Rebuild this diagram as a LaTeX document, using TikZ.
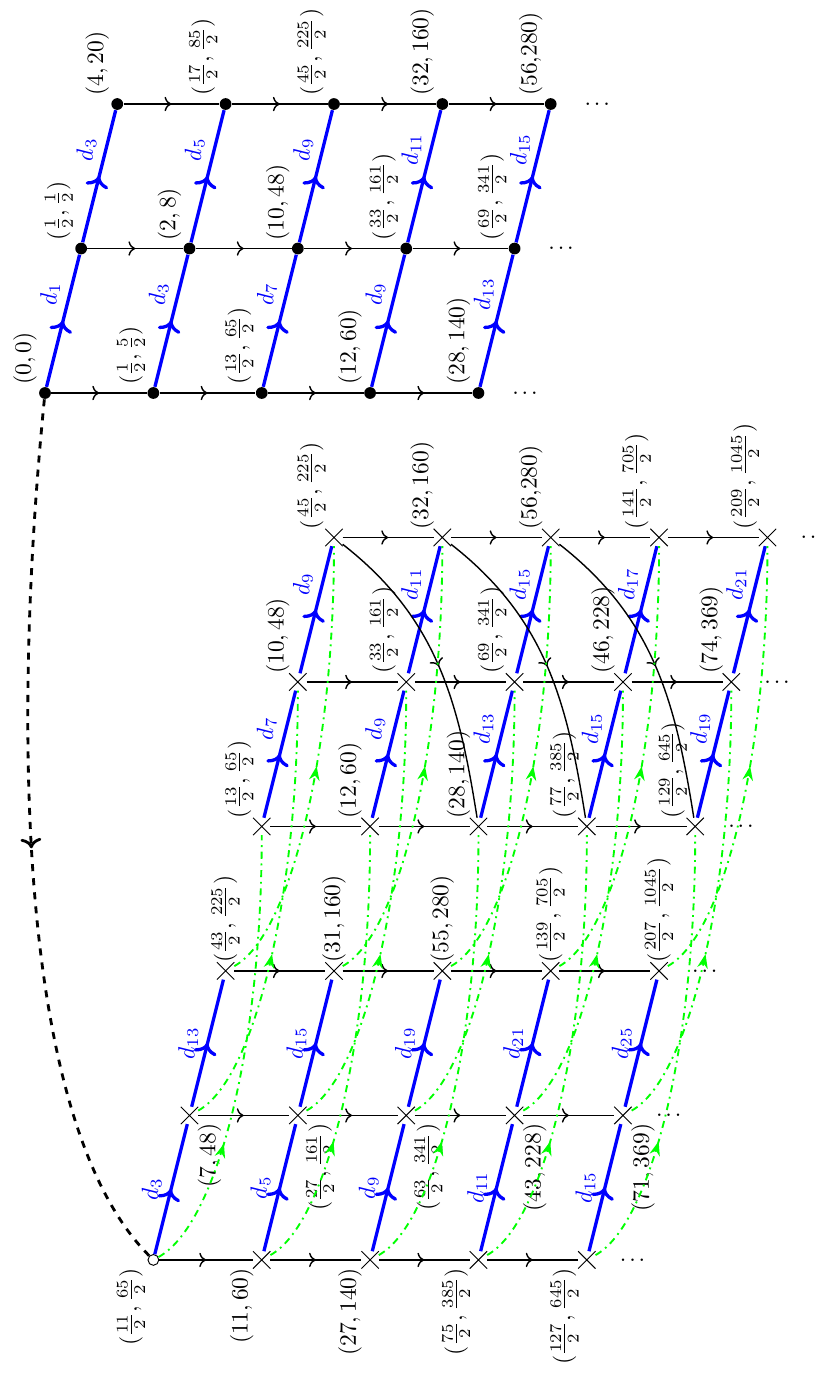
\documentclass[tikz,border=0pt]{standalone}
\usepackage{amsmath}
\usepackage{amssymb}
\usepackage{tikz}
\usetikzlibrary{shapes.misc,decorations.markings,arrows.meta,positioning}

\begin{document}
\begin{tikzpicture}[rotate=90, transform shape, x=1.08cm, y=1.08cm,
        fdot/.style={circle, fill, inner sep=0pt, minimum size=5pt},
        odot/.style={circle, draw, fill=white, inner sep=0pt, minimum size=4.6pt},
        xmark/.style={cross out, draw, inner sep=0pt, minimum size=7pt},
        midarr/.style={postaction={decorate}, decoration={markings, mark=at position #1 with {\arrow{>}}}},
        midarr/.default=0.5,
        blk/.style={midarr, semithick},
        dif/.style={midarr, blue, line width=1.4pt},
        grn/.style={green, thick, dash dot, postaction={decorate}, decoration={markings, mark=at position #1 with {\arrow{Stealth[length=6pt]}}}}]
        \useasboundingbox (-13.69,-10.74) rectangle (5.44,0.623);

        % first page
        \node[fdot] (g1a1) at (0,0) {};
        \node[fdot] (g1a2) at (0,-1.5) {};
        \node[fdot] (g1a3) at (0,-3) {};
        \node[fdot] (g1a4) at (0,-4.5) {};
        \node[fdot] (g1a5) at (0,-6) {};
        \node[fdot] (g1b1) at (2,-0.5) {};
        \node[fdot] (g1b2) at (2,-2) {};
        \node[fdot] (g1b3) at (2,-3.5) {};
        \node[fdot] (g1b4) at (2,-5) {};
        \node[fdot] (g1b5) at (2,-6.5) {};
        \node[fdot] (g1c1) at (4,-1) {};
        \node[fdot] (g1c2) at (4,-2.5) {};
        \node[fdot] (g1c3) at (4,-4) {};
        \node[fdot] (g1c4) at (4,-5.5) {};
        \node[fdot] (g1c5) at (4,-7) {};

        \draw[blk] (g1a1) -- (g1a2);
        \draw[blk] (g1a2) -- (g1a3);
        \draw[blk] (g1a3) -- (g1a4);
        \draw[blk] (g1a4) -- (g1a5);
        \draw[blk] (g1b1) -- (g1b2);
        \draw[blk] (g1b2) -- (g1b3);
        \draw[blk] (g1b3) -- (g1b4);
        \draw[blk] (g1b4) -- (g1b5);
        \draw[blk] (g1c1) -- (g1c2);
        \draw[blk] (g1c2) -- (g1c3);
        \draw[blk] (g1c3) -- (g1c4);
        \draw[blk] (g1c4) -- (g1c5);

        \draw[dif] (g1a1) -- (g1b1) node[pos=0.7, above] (e1a1) {$d_1$};
        \draw[dif] (g1b1) -- (g1c1) node[pos=0.7, above] (e1b1) {$d_3$};
        \draw[dif] (g1a2) -- (g1b2) node[pos=0.7, above] (e1a2) {$d_3$};
        \draw[dif] (g1b2) -- (g1c2) node[pos=0.7, above] (e1b2) {$d_5$};
        \draw[dif] (g1a3) -- (g1b3) node[pos=0.7, above] (e1a3) {$d_7$};
        \draw[dif] (g1b3) -- (g1c3) node[pos=0.7, above] (e1b3) {$d_9$};
        \draw[dif] (g1a4) -- (g1b4) node[pos=0.7, above] (e1a4) {$d_9$};
        \draw[dif] (g1b4) -- (g1c4) node[pos=0.7, above] (e1b4) {$d_{11}$};
        \draw[dif] (g1a5) -- (g1b5) node[pos=0.7, above] (e1a5) {$d_{13}$};
        \draw[dif] (g1b5) -- (g1c5) node[pos=0.7, above] (e1b5) {$d_{15}$};

        \node[above right] (l1a1) at (g1a1) {$(0,0)$};
        \node[above right] (l1a2) at (g1a2) {$(\frac{1}{2},\frac{5}{2})$};
        \node[above right] (l1a3) at (g1a3) {$(\frac{13}{2},\frac{65}{2})$};
        \node[above right] (l1a4) at (g1a4) {$(12,60)$};
        \node[above right] (l1a5) at (g1a5) {$(28,140)$};
        \node[above right] (l1b1) at (g1b1) {$(\frac{1}{2},\frac{1}{2})$};
        \node[above right] (l1b2) at (g1b2) {$(2,8)$};
        \node[above right] (l1b3) at (g1b3) {$(10,48)$};
        \node[above right] (l1b4) at (g1b4) {$(\frac{33}{2},\frac{161}{2})$};
        \node[above right] (l1b5) at (g1b5) {$(\frac{69}{2},\frac{341}{2})$};
        \node[above right] (l1c1) at (g1c1) {$(4,20)$};
        \node[above right] (l1c2) at (g1c2) {$(\frac{17}{2},\frac{85}{2})$};
        \node[above right] (l1c3) at (g1c3) {$(\frac{45}{2},\frac{225}{2})$};
        \node[above right] (l1c4) at (g1c4) {$(32,160)$};
        \node[above right] (l1c5) at (g1c5) {$(56{,}280)$};

        \node[below=3pt of g1a5] (v1a) {$\vdots$};
        \node[below=3pt of g1b5] (v1b) {$\vdots$};
        \node[below=3pt of g1c5] (v1c) {$\vdots$};

        % second page
        \node[xmark] (g2a1) at (-6,-3) {};
        \node[xmark] (g2a2) at (-6,-4.5) {};
        \node[xmark] (g2a3) at (-6,-6) {};
        \node[xmark] (g2a4) at (-6,-7.5) {};
        \node[xmark] (g2a5) at (-6,-9) {};
        \node[xmark] (g2b1) at (-4,-3.5) {};
        \node[xmark] (g2b2) at (-4,-5) {};
        \node[xmark] (g2b3) at (-4,-6.5) {};
        \node[xmark] (g2b4) at (-4,-8) {};
        \node[xmark] (g2b5) at (-4,-9.5) {};
        \node[xmark] (g2c1) at (-2,-4) {};
        \node[xmark] (g2c2) at (-2,-5.5) {};
        \node[xmark] (g2c3) at (-2,-7) {};
        \node[xmark] (g2c4) at (-2,-8.5) {};
        \node[xmark] (g2c5) at (-2,-10) {};

        \draw[blk] (g2a1) -- (g2a2);
        \draw[blk] (g2a2) -- (g2a3);
        \draw[blk] (g2a3) -- (g2a4);
        \draw[blk] (g2a4) -- (g2a5);
        \draw[blk] (g2b1) -- (g2b2);
        \draw[blk] (g2b2) -- (g2b3);
        \draw[blk] (g2b3) -- (g2b4);
        \draw[blk] (g2b4) -- (g2b5);
        \draw[blk] (g2c1) -- (g2c2);
        \draw[blk] (g2c2) -- (g2c3);
        \draw[blk] (g2c3) -- (g2c4);
        \draw[blk] (g2c4) -- (g2c5);

        \draw[dif] (g2a1) -- (g2b1) node[pos=0.7, above] (e2a1) {$d_7$};
        \draw[dif] (g2b1) -- (g2c1) node[pos=0.7, above] (e2b1) {$d_9$};
        \draw[dif] (g2a2) -- (g2b2) node[pos=0.7, above] (e2a2) {$d_9$};
        \draw[dif] (g2b2) -- (g2c2) node[pos=0.7, above] (e2b2) {$d_{11}$};
        \draw[dif] (g2a3) -- (g2b3) node[pos=0.7, above] (e2a3) {$d_{13}$};
        \draw[dif] (g2b3) -- (g2c3) node[pos=0.7, above] (e2b3) {$d_{15}$};
        \draw[dif] (g2a4) -- (g2b4) node[pos=0.7, above] (e2a4) {$d_{15}$};
        \draw[dif] (g2b4) -- (g2c4) node[pos=0.7, above] (e2b4) {$d_{17}$};
        \draw[dif] (g2a5) -- (g2b5) node[pos=0.7, above] (e2a5) {$d_{19}$};
        \draw[dif] (g2b5) -- (g2c5) node[pos=0.7, above] (e2b5) {$d_{21}$};

        \draw[blk] (g2c1) to[out=-128, in=9] (g2a3);
        \draw[blk] (g2c2) to[out=-128, in=9] (g2a4);
        \draw[blk] (g2c3) to[out=-128, in=9] (g2a5);

        \node[above right] (l2a1) at (g2a1) {$(\frac{13}{2},\frac{65}{2})$};
        \node[above right] (l2a2) at (g2a2) {$(12,60)$};
        \node[above right] (l2a3) at (g2a3) {$(28,140)$};
        \node[above right] (l2a4) at (g2a4) {$(\frac{77}{2},\frac{385}{2})$};
        \node[above right] (l2a5) at (g2a5) {$(\frac{129}{2},\frac{645}{2})$};
        \node[above right] (l2b1) at (g2b1) {$(10,48)$};
        \node[above right] (l2b2) at (g2b2) {$(\frac{33}{2},\frac{161}{2})$};
        \node[above right] (l2b3) at (g2b3) {$(\frac{69}{2},\frac{341}{2})$};
        \node[above right] (l2b4) at (g2b4) {$(46,228)$};
        \node[above right] (l2b5) at (g2b5) {$(74,369)$};
        \node[above right] (l2c1) at (g2c1) {$(\frac{45}{2},\frac{225}{2})$};
        \node[above right] (l2c2) at (g2c2) {$(32,160)$};
        \node[above right] (l2c3) at (g2c3) {$(56{,}280)$};
        \node[above right] (l2c4) at (g2c4) {$(\frac{141}{2},\frac{705}{2})$};
        \node[above right] (l2c5) at (g2c5) {$(\frac{209}{2},\frac{1045}{2})$};

        \node[below=1.7pt of g2a5] (v2a) {$\vdots$};
        \node[below=1.7pt of g2b5] (v2b) {$\vdots$};
        \node[below=1.7pt of g2c5] (v2c) {$\vdots$};

        % third page
        \node[xmark] (g3a2) at (-12,-3) {};
        \node[xmark] (g3a3) at (-12,-4.5) {};
        \node[xmark] (g3a4) at (-12,-6) {};
        \node[xmark] (g3a5) at (-12,-7.5) {};
        \node[xmark] (g3b1) at (-10,-2) {};
        \node[xmark] (g3b2) at (-10,-3.5) {};
        \node[xmark] (g3b3) at (-10,-5) {};
        \node[xmark] (g3b4) at (-10,-6.5) {};
        \node[xmark] (g3b5) at (-10,-8) {};
        \node[xmark] (g3c1) at (-8,-2.5) {};
        \node[xmark] (g3c2) at (-8,-4) {};
        \node[xmark] (g3c3) at (-8,-5.5) {};
        \node[xmark] (g3c4) at (-8,-7) {};
        \node[xmark] (g3c5) at (-8,-8.5) {};
        \node[odot] (g3a1) at (-12,-1.5) {};

        \draw[blk] (g3a1) -- (g3a2);
        \draw[blk] (g3a2) -- (g3a3);
        \draw[blk] (g3a3) -- (g3a4);
        \draw[blk] (g3a4) -- (g3a5);
        \draw[blk] (g3b1) -- (g3b2);
        \draw[blk] (g3b2) -- (g3b3);
        \draw[blk] (g3b3) -- (g3b4);
        \draw[blk] (g3b4) -- (g3b5);
        \draw[blk] (g3c1) -- (g3c2);
        \draw[blk] (g3c2) -- (g3c3);
        \draw[blk] (g3c3) -- (g3c4);
        \draw[blk] (g3c4) -- (g3c5);

        \draw[dif] (g3a1) -- (g3b1) node[midway, above] (e3a1) {$d_3$};
        \draw[dif] (g3b1) -- (g3c1) node[midway, above] (e3b1) {$d_{13}$};
        \draw[dif] (g3a2) -- (g3b2) node[midway, above] (e3a2) {$d_5$};
        \draw[dif] (g3b2) -- (g3c2) node[midway, above] (e3b2) {$d_{15}$};
        \draw[dif] (g3a3) -- (g3b3) node[midway, above] (e3a3) {$d_9$};
        \draw[dif] (g3b3) -- (g3c3) node[midway, above] (e3b3) {$d_{19}$};
        \draw[dif] (g3a4) -- (g3b4) node[midway, above] (e3a4) {$d_{11}$};
        \draw[dif] (g3b4) -- (g3c4) node[midway, above] (e3b4) {$d_{21}$};
        \draw[dif] (g3a5) -- (g3b5) node[midway, above] (e3a5) {$d_{15}$};
        \draw[dif] (g3b5) -- (g3c5) node[midway, above] (e3b5) {$d_{25}$};

        \node[above left] (l3a1) at (g3a1) {$(\frac{11}{2},\frac{65}{2})$};
        \node[above left] (l3a2) at (g3a2) {$(11,60)$};
        \node[above left] (l3a3) at (g3a3) {$(27,140)$};
        \node[above left] (l3a4) at (g3a4) {$(\frac{75}{2},\frac{385}{2})$};
        \node[above left] (l3a5) at (g3a5) {$(\frac{127}{2},\frac{645}{2})$};
        \node[below left] (l3b1) at (g3b1) {$(7,48)$};
        \node[below left] (l3b2) at (g3b2) {$(\frac{27}{2},\frac{161}{2})$};
        \node[below left] (l3b3) at (g3b3) {$(\frac{63}{2},\frac{341}{2})$};
        \node[below left] (l3b4) at (g3b4) {$(43,228)$};
        \node[below left] (l3b5) at (g3b5) {$(71,369)$};
        \node[right] (l3c1) at (g3c1) {$(\frac{43}{2},\frac{225}{2})$};
        \node[right] (l3c2) at (g3c2) {$(31,160)$};
        \node[right] (l3c3) at (g3c3) {$(55,280)$};
        \node[right] (l3c4) at (g3c4) {$(\frac{139}{2},\frac{705}{2})$};
        \node[right] (l3c5) at (g3c5) {$(\frac{207}{2},\frac{1045}{2})$};

        \node[below=1.7pt of g3a5] (v3a) {$\vdots$};
        \node[below=1.7pt of g3b5] (v3b) {$\vdots$};
        \node[below=1.7pt of g3c5] (v3c) {$\vdots$};

        % first page to third page
        \draw[midarr=0.51, very thick, dashed] (g1a1) .. controls +(-4,0.4) and +(2,2) .. (g3a1);

        % third page to second page
        \draw[grn=0.3] (g3a1) .. controls +(0.5,-0.9) and +(-3,0) .. (g2a1);
        \draw[grn=0.3] (g3a2) .. controls +(0.5,-0.9) and +(-3,0) .. (g2a2);
        \draw[grn=0.3] (g3a3) .. controls +(0.5,-0.9) and +(-3,0) .. (g2a3);
        \draw[grn=0.3] (g3a4) .. controls +(0.5,-0.9) and +(-3,0) .. (g2a4);
        \draw[grn=0.3] (g3a5) .. controls +(0.5,-0.9) and +(-3,0) .. (g2a5);
        \draw[grn=0.4] (g3b1) .. controls +(0.5,-0.9) and +(-3,0) .. (g2b1);
        \draw[grn=0.4] (g3b2) .. controls +(0.5,-0.9) and +(-3,0) .. (g2b2);
        \draw[grn=0.4] (g3b3) .. controls +(0.5,-0.9) and +(-3,0) .. (g2b3);
        \draw[grn=0.4] (g3b4) .. controls +(0.5,-0.9) and +(-3,0) .. (g2b4);
        \draw[grn=0.4] (g3b5) .. controls +(0.5,-0.9) and +(-3,0) .. (g2b5);
        \draw[grn=0.5] (g3c1) .. controls +(0.5,-0.9) and +(-3,0) .. (g2c1);
        \draw[grn=0.5] (g3c2) .. controls +(0.5,-0.9) and +(-3,0) .. (g2c2);
        \draw[grn=0.5] (g3c3) .. controls +(0.5,-0.9) and +(-3,0) .. (g2c3);
        \draw[grn=0.5] (g3c4) .. controls +(0.5,-0.9) and +(-3,0) .. (g2c4);
        \draw[grn=0.5] (g3c5) .. controls +(0.5,-0.9) and +(-3,0) .. (g2c5);
\end{tikzpicture}
\end{document}
